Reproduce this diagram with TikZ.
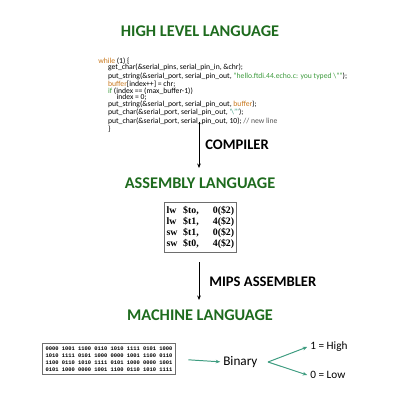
\documentclass[tikz,border=0pt]{standalone}
\usepackage{fontspec}
\setmainfont{Carlito}
\newfontfamily\asmfont{Liberation Serif}
\newfontfamily\binfont{Liberation Mono}
\usetikzlibrary{arrows.meta}
\definecolor{lgGreen}{HTML}{1E6B1E}
\definecolor{lgTeal}{HTML}{3E9C80}
\definecolor{lgOrange}{HTML}{C8781E}
\definecolor{lgLeaf}{HTML}{3C9A3C}
\definecolor{lgGray}{HTML}{555555}
\definecolor{lgFrame}{HTML}{6E6E6E}

\begin{document}
\begin{tikzpicture}[
    >={Stealth[length=3.2pt,width=2.6pt]},
    level/.style={font=\fontsize{11.6}{13}\selectfont\bfseries, text=lgGreen, inner sep=0pt},
    tool/.style={font=\fontsize{10.4}{11}\selectfont\bfseries, anchor=west, inner sep=0pt},
    frame/.style={draw=lgFrame, line width=0.8pt, inner sep=2pt},
    flow/.style={->, line width=0.5pt, black},
    bit/.style={->, line width=0.7pt, lgTeal},
    word/.style={font=\fontsize{8}{9}\selectfont, anchor=west, inner sep=0pt}
  ]
  \useasboundingbox (0,0) rectangle (10,-10);

  % high level
  \node[level] (hll) at (5,-0.775) {HIGH LEVEL LANGUAGE};
  \node[anchor=north west, align=left, inner sep=0pt,
        font=\fontsize{5.45}{4.8}\selectfont] (code) at (2.45,-1.43) {%
    {\color{lgOrange}while} (1) \{\\
    \hspace*{7pt}get\_char(\&serial\_pins, serial\_pin\_in, \&chr);\\
    \hspace*{7pt}put\_string(\&serial\_port, serial\_pin\_out, {\color{lgLeaf}"hello.ftdi.44.echo.c: you typed \textbackslash""});\\
    \hspace*{7pt}{\color{lgOrange}buffer}[index++] = chr;\\
    \hspace*{7pt}{\color{lgLeaf}if} (index == (max\_buffer-1))\\
    \hspace*{13pt}index = 0;\\
    \hspace*{7pt}put\_string(\&serial\_port, serial\_pin\_out, {\color{lgOrange}buffer});\\
    \hspace*{7pt}put\_char(\&serial\_port, serial\_pin\_out, {\color{lgTeal}\textquotesingle\textbackslash"\textquotesingle});\\
    \hspace*{7pt}put\_char(\&serial\_port, serial\_pin\_out, 10); {\color{lgGray}// new line}\\
    \hspace*{7pt}\}};

  \coordinate (c1) at (4.975,-3.05);
  \coordinate (c2) at (4.975,-4.2);
  \draw[flow] (c1) -- (c2);
  \node[tool] (comp) at (5.125,-3.625) {COMPILER};

  % assembly
  \node[level] (asl) at (5,-4.575) {ASSEMBLY LANGUAGE};
  \node[frame, inner xsep=1.5pt, font=\asmfont\fontsize{7}{7.9}\selectfont\bfseries] (asm) at (5.01,-5.69) {%
    \begin{tabular}{@{}l@{\hspace{4pt}}l@{\hspace{10pt}}l@{}}
      lw & \$to, & 0(\$2)\\
      lw & \$t1, & 4(\$2)\\
      sw & \$t1, & 0(\$2)\\
      sw & \$t0, & 4(\$2)
    \end{tabular}};

  \coordinate (a1) at (4.975,-6.55);
  \coordinate (a2) at (4.975,-7.5);
  \draw[flow] (a1) -- (a2);
  \node[tool] (mips) at (5.225,-7.05) {MIPS ASSEMBLER};

  % machine
  \node[level] (mcl) at (5,-7.875) {MACHINE LANGUAGE};
  \node[frame, align=left, font=\binfont\fontsize{3.85}{5.1}\selectfont\bfseries] (bin) at (2.725,-8.975) {%
    0000 1001 1100 0110 1010 1111 0101 1000\\
    1010 1111 0101 1000 0000 1001 1100 0110\\
    1100 0110 1010 1111 0101 1000 0000 1001\\
    0101 1000 0000 1001 1100 0110 1010 1111};

  \node[word, font=\fontsize{9.4}{10}\selectfont] (binary) at (5.575,-9.05) {Binary};
  \node[word] (high) at (7.75,-8.675) {1 = High};
  \node[word] (low) at (7.75,-9.375) {0 = Low};
  \coordinate (split) at (6.7,-9.05);

  \draw[bit, shorten <=9pt, shorten >=2pt] (bin.east) -- (binary.west);
  \draw[bit] (split) -- ([xshift=-2pt]high.west);
  \draw[bit] (split) -- ([xshift=-2pt]low.west);
\end{tikzpicture}
\end{document}
